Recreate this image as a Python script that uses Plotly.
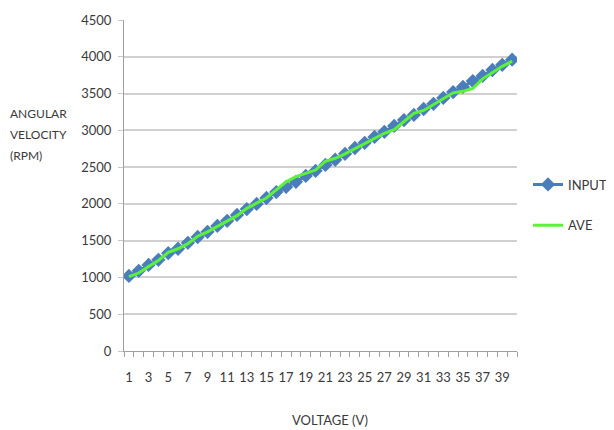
import plotly.graph_objects as go

voltage = list(range(1, 41))
input_rpm = [1020, 1090, 1170, 1240, 1330, 1390, 1470, 1550, 1620, 1700,
             1770, 1850, 1930, 2000, 2080, 2160, 2230, 2300, 2380, 2450,
             2530, 2600, 2680, 2760, 2830, 2910, 2980, 3060, 3140, 3210,
             3290, 3360, 3440, 3520, 3590, 3670, 3740, 3820, 3890, 3960]
ave_rpm = [1010, 1060, 1150, 1230, 1340, 1390, 1460, 1560, 1620, 1690,
           1770, 1840, 1940, 2010, 2080, 2190, 2300, 2370, 2410, 2460,
           2580, 2620, 2680, 2750, 2830, 2900, 2960, 3010, 3120, 3230,
           3270, 3350, 3430, 3510, 3530, 3570, 3700, 3790, 3870, 3940]
x_tick_vals = list(range(1, 40, 2))
x_tick_text = [str(v) for v in x_tick_vals]
y_tick_vals = list(range(0, 4501, 500))
y_title_lines = ["ANGULAR", "VELOCITY", "(RPM)"]

FONT = "Lato, Open Sans, sans-serif"
TXT = "#3a3a3a"

# page has an 8px body margin; plot area in page: x 124..517, y 20..351
L, T, R, B = 116, 12, 105, 87
W, H = 614, 430
w_plot = W - L - R
h_plot = H - T - B

fig = go.Figure()
fig.add_trace(go.Scatter(
    x=voltage, y=input_rpm, name="INPUT", mode="lines+markers",
    line=dict(color="#4a7ebb", width=3),
    marker=dict(symbol="diamond", size=11, color="#4a7ebb"),
    legendgroup="a"))
fig.add_trace(go.Scatter(
    x=voltage, y=ave_rpm, name="AVE", mode="lines",
    line=dict(color="#5cf23a", width=3),
    legendgroup="b"))

annotations = []
for i, line in enumerate(y_title_lines):
    py = 113 + 21 * i  # page pixel y center
    annotations.append(dict(
        text=line, xref="paper", yref="paper",
        x=(8 - 124) / w_plot, y=(351 - py) / h_plot,
        xanchor="left", yanchor="middle", showarrow=False,
        font=dict(size=12, color=TXT)))
annotations.append(dict(
    text="VOLTAGE (V)", xref="paper", yref="paper", x=(330 - 124) / w_plot,
    y=0, yanchor="middle", yshift=-69, showarrow=False,
    font=dict(size=13, color=TXT)))

fig.update_layout(
    width=W, height=H,
    margin=dict(l=L, r=R, t=T, b=B, autoexpand=False),
    paper_bgcolor="white", plot_bgcolor="white",
    font=dict(family=FONT, size=13, color=TXT),
    showlegend=True,
    legend=dict(x=(528 - 124) / w_plot, y=(351 - 205) / h_plot,
                xanchor="left", yanchor="middle",
                tracegroupgap=21, font=dict(size=13, color=TXT),
                bgcolor="rgba(0,0,0,0)"),
    xaxis=dict(range=[0.5, 40.5], tickmode="array", tickvals=x_tick_vals,
               ticktext=x_tick_text, ticks="", showgrid=False, zeroline=False,
               showline=True, linecolor="#a0a0a0", linewidth=1,
               ticklabelstandoff=14,
               minor=dict(ticks="outside", tick0=0.5, dtick=1, ticklen=5,
                          tickcolor="#a0a0a0", showgrid=False),
               tickfont=dict(size=13, color=TXT)),
    yaxis=dict(range=[0, 4500], tickmode="array", tickvals=y_tick_vals,
               showgrid=True, gridcolor="#d0d0d0", gridwidth=1.5,
               zeroline=False, showline=True, linecolor="#a0a0a0",
               ticks="outside", ticklen=5, tickcolor="#c8c8c8",
               ticklabelstandoff=4,
               tickfont=dict(size=13, color=TXT)),
    annotations=annotations,
)

fig.write_html("out.html")
